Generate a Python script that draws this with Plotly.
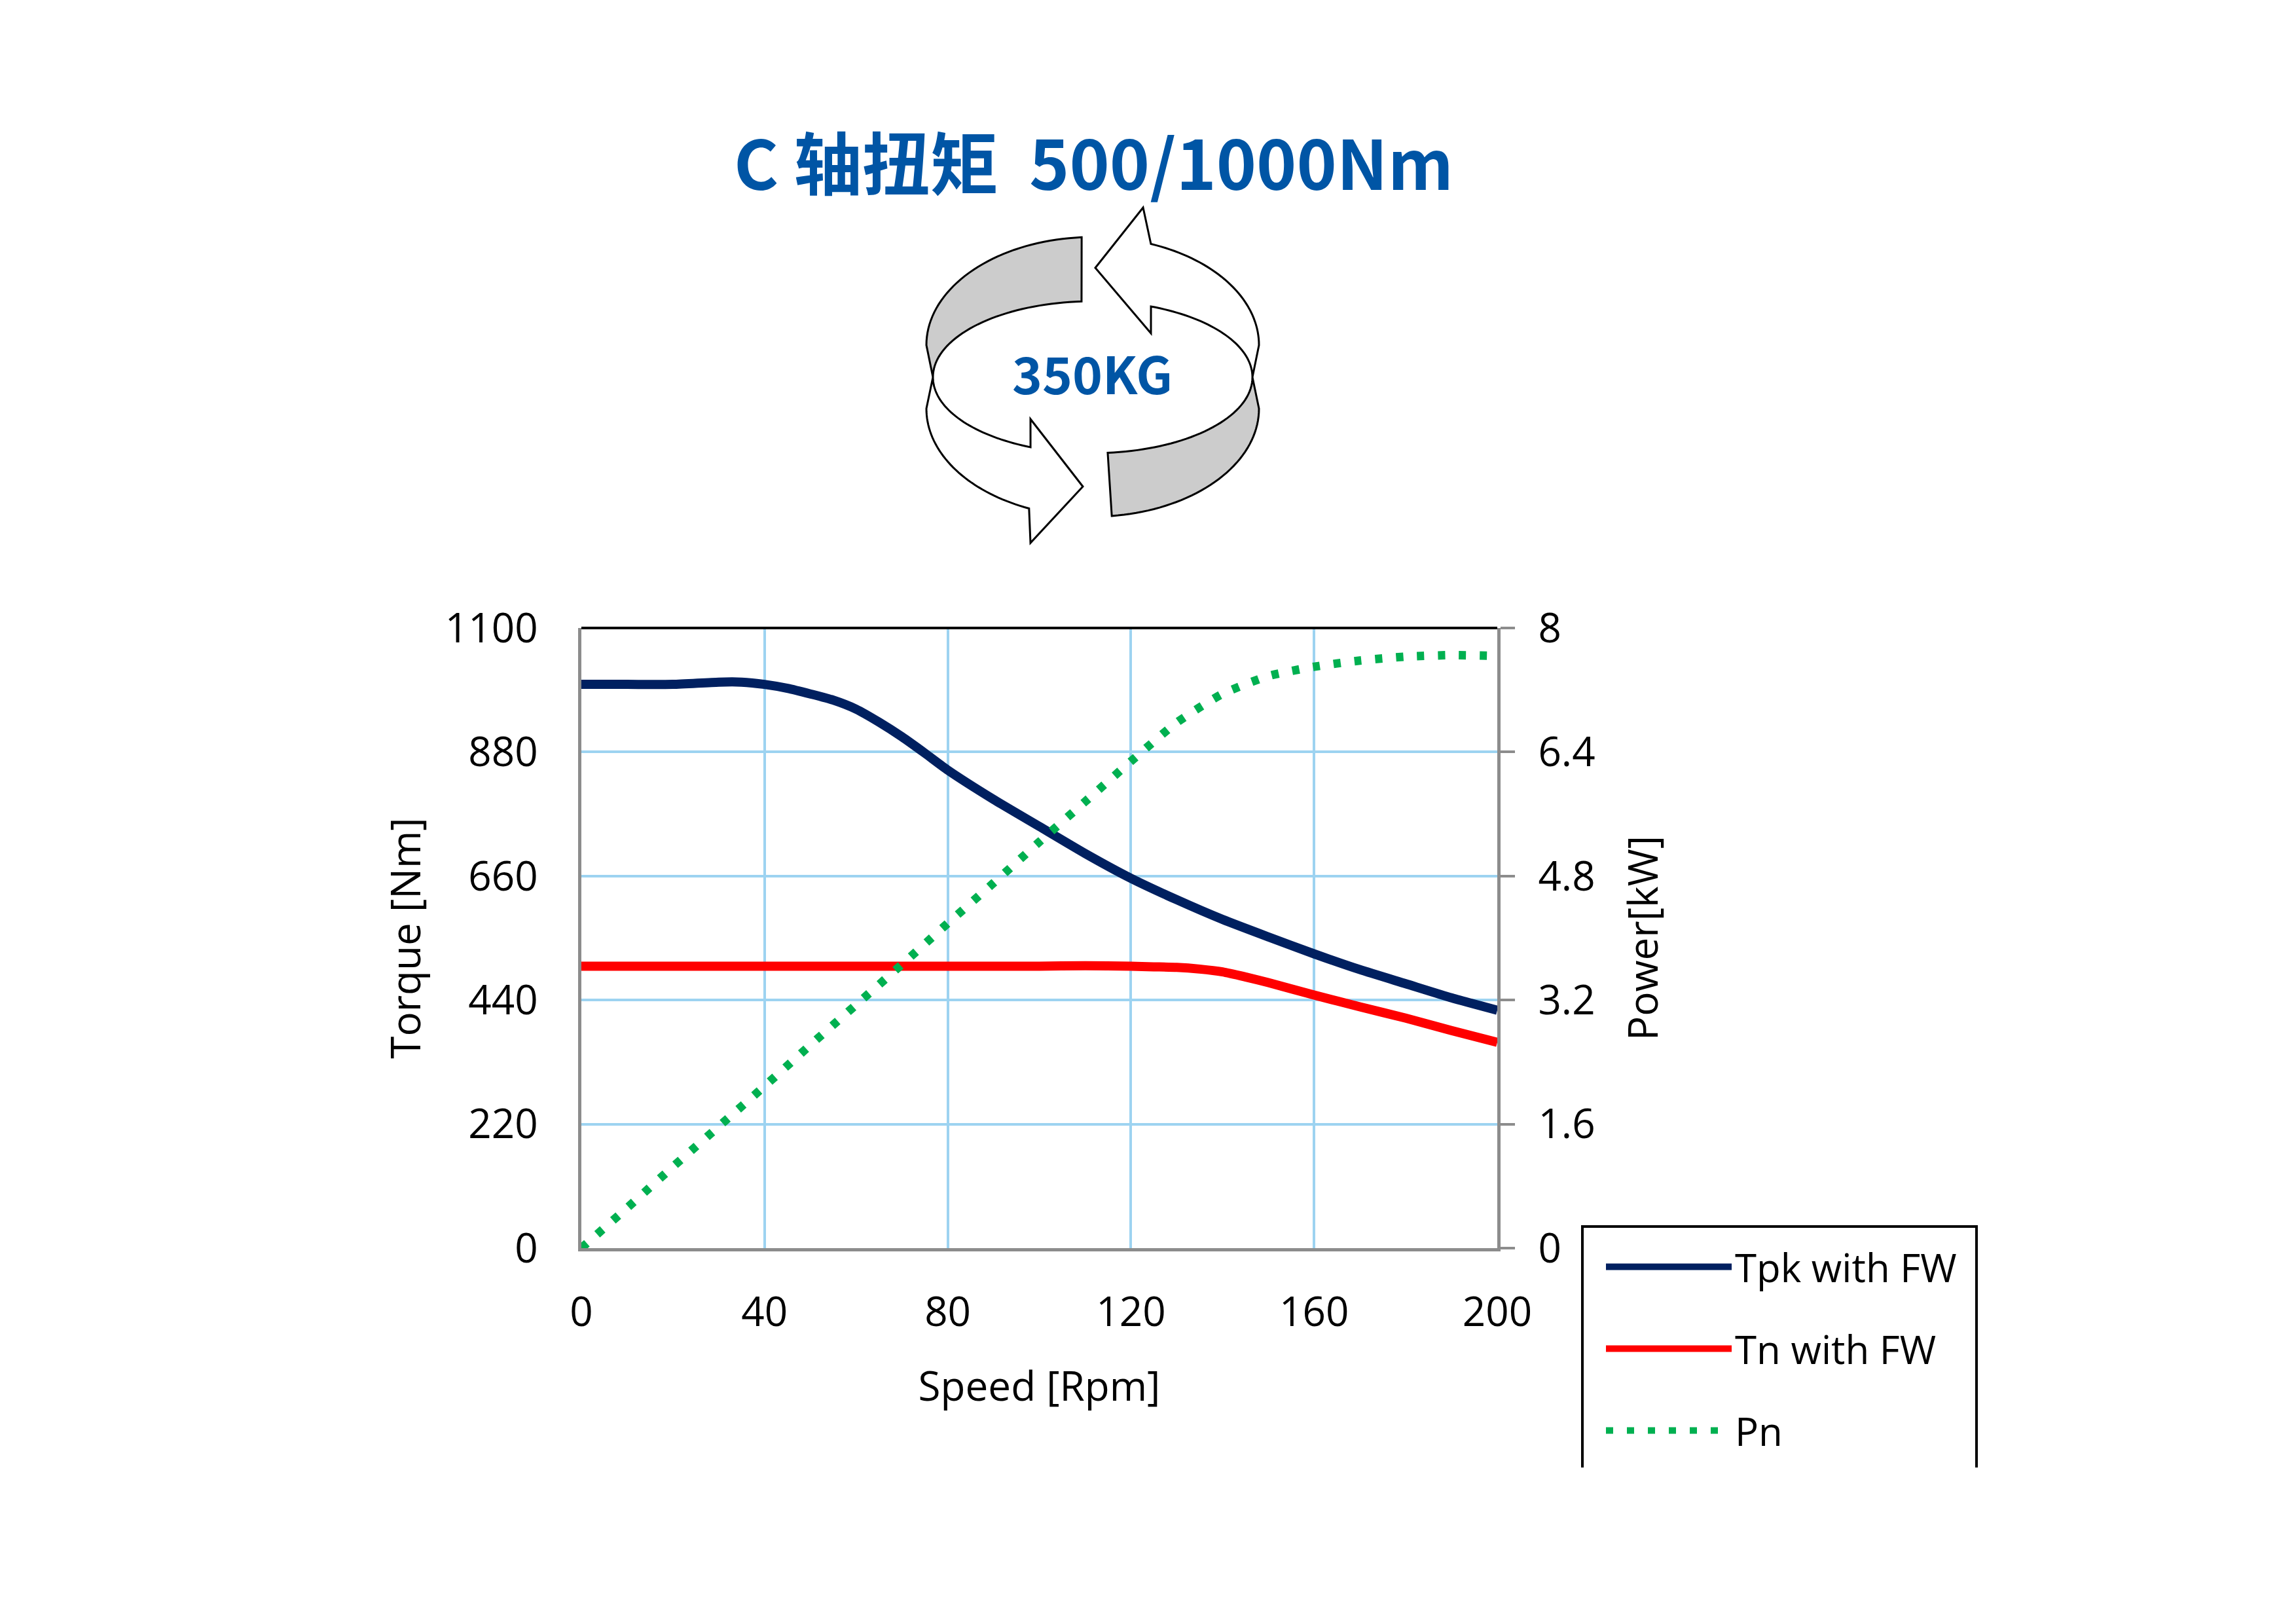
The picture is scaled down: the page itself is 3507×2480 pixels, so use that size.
import numpy as np
import plotly.graph_objects as go

W, H = 3507, 2480

# ---- data ----
speed_tpk = [0, 10, 20, 30, 35, 40, 45, 50, 55, 60, 65, 70, 75, 80, 90, 100,
             110, 120, 130, 140, 150, 160, 170, 180, 190, 200]
tpk = [1000, 1000, 1000, 1004, 1004, 1000, 993, 983, 972, 956, 933, 907, 878, 848, 796, 748,
       700, 656, 618, 583, 552, 522, 494, 469, 444, 422]

speed_tn = [0, 20, 40, 60, 80, 100, 110, 120, 125, 130, 135, 140, 145, 150, 160, 170, 180, 190, 200]
tn = [500, 500, 500, 500, 500, 500, 501, 500, 499, 498, 495, 490, 481, 471, 449, 428, 408, 386, 365]

speed_pn = [0, 10, 20, 30, 40, 50, 60, 70, 80, 90, 100, 110, 120, 130, 140, 150, 160, 170, 180, 190, 200]
pn = [0, 0.52, 1.05, 1.57, 2.09, 2.62, 3.14, 3.66, 4.19, 4.71, 5.24, 5.76, 6.28, 6.78, 7.15,
      7.38, 7.50, 7.58, 7.63, 7.65, 7.64]

speed_ticks = [0, 40, 80, 120, 160, 200]
torque_ticks = [0, 220, 440, 660, 880, 1100]
power_ticks = [0, 1.6, 3.2, 4.8, 6.4, 8]
power_labels = ["0", "1.6", "3.2", "4.8", "6.4", "8"]

FONT = "Open Sans"
BLUE = "#0055A5"
GRID = "#9DD3F1"
AXIS = "#8C8C8C"

# plot area in page pixels; the page body adds an 8px margin, so the figure is
# made 16px smaller to avoid scrollbars
PL, PR, PT, PB = 888, 2287, 959, 1906
OFF = 8
FW, FH = W - 2 * OFF, H - 2 * OFF


def px(x):
    return (x - PL) / (PR - PL)


def py(y):
    return (PB - y) / (PB - PT)


fig = go.Figure()
fig.add_trace(go.Scatter(x=speed_tpk, y=tpk, name="Tpk with FW", mode="lines", legendgroup="a",
                         line=dict(color="#002060", width=14, shape="spline", smoothing=0.6)))
fig.add_trace(go.Scatter(x=speed_tn, y=tn, name="Tn with FW", mode="lines", legendgroup="b",
                         line=dict(color="#FF0000", width=14, shape="spline", smoothing=0.6)))
fig.add_trace(go.Scatter(x=speed_pn, y=pn, name="Pn", mode="lines", yaxis="y2", legendgroup="c",
                         line=dict(color="#00B050", width=13, dash="11px,21px",
                                   shape="spline", smoothing=0.6)))


# ---- rotating arrows icon (decoration) ----
def arc(cx, cy, rx, ry, t0, t1, n=40):
    t = np.radians(np.linspace(t0, t1, n))
    return list(zip(cx + rx * np.cos(t), cy + ry * np.sin(t)))


def path(pts):
    return "M" + " L".join(f"{px(x):.5f},{py(y):.5f}" for x, y in pts) + " Z"


CX = 1669
left_gray = arc(CX, 527, 254, 165, 266.2, 180) + arc(CX, 576, 244, 116, 180, 266.0)
left_white = ([(1425, 576)] + arc(CX, 624, 254, 165, 180, 112.5)
              + [(1574, 829), (1654, 743), (1574, 640)] + arc(CX, 576, 244, 116, 112.9, 180))
right_gray = arc(CX, 624, 254, 165, 83.4, 0) + arc(CX, 576, 244, 116, 0, 84.6)
right_white = ([(1913, 576)] + arc(CX, 527, 254, 165, 360, 290.5)
               + [(1746, 317), (1673, 409), (1758, 509)] + arc(CX, 576, 244, 116, 291.4, 360))

shapes = []
for pts, fill in [(left_gray, "#CCCCCC"), (left_white, "white"),
                  (right_gray, "#CCCCCC"), (right_white, "white")]:
    shapes.append(dict(type="path", xref="paper", yref="paper", path=path(pts),
                       fillcolor=fill, line=dict(color="black", width=3)))

# black top border of plot area
shapes.append(dict(type="line", xref="paper", yref="paper", x0=0, x1=1, y0=1, y1=1,
                   line=dict(color="black", width=4)))

# legend frame (open at bottom as in the reference)
lx0, lx1, ly0, ly1 = px(2417), px(3019), py(1873), py(2241)
shapes.append(dict(type="path", xref="paper", yref="paper",
                   path=f"M{lx0},{ly1} L{lx0},{ly0} L{lx1},{ly0} L{lx1},{ly1}",
                   line=dict(color="black", width=4)))

fig.update_layout(
    width=FW, height=FH,
    paper_bgcolor="white", plot_bgcolor="white",
    margin=dict(l=PL - OFF, r=FW - (PR - OFF), t=PT - OFF, b=FH - (PB - OFF)),
    font=dict(family=FONT, size=62, color="black"),
    shapes=shapes,
    showlegend=True,
    legend=dict(x=px(2448), y=py(1889), xanchor="left", yanchor="top",
                bgcolor="rgba(0,0,0,0)", borderwidth=0, font=dict(size=60),
                itemwidth=192, tracegroupgap=44, traceorder="grouped"),
    annotations=[
        dict(text="<b>C 轴扭矩\u00a0\u00a0500/1000Nm</b>", xref="paper", yref="paper",
             x=px(1670), y=py(244), xanchor="center", yanchor="middle", showarrow=False,
             font=dict(family="Noto Sans CJK SC", size=104, color=BLUE)),
        dict(text="<b>350KG</b>", xref="paper", yref="paper",
             x=px(1668), y=py(568), xanchor="center", yanchor="middle", showarrow=False,
             font=dict(family="Noto Sans CJK SC", size=78, color=BLUE)),
    ],
    xaxis=dict(range=[0, 200], tickvals=speed_ticks, showgrid=True, gridcolor=GRID, gridwidth=4,
               showline=True, linecolor=AXIS, linewidth=5, zeroline=False, ticks="",
               ticklabelstandoff=40,
               title=dict(text="Speed [Rpm]", standoff=55, font=dict(size=62))),
    yaxis=dict(range=[0, 1100], tickvals=torque_ticks, showgrid=True, gridcolor=GRID, gridwidth=4,
               showline=True, linecolor=AXIS, linewidth=5, zeroline=False, ticks="",
               ticklabelstandoff=49,
               title=dict(text="Torque [Nm]", standoff=19, font=dict(size=62))),
    yaxis2=dict(range=[0, 8], tickvals=power_ticks, ticktext=power_labels, overlaying="y",
                side="right", showgrid=False, showline=True, linecolor=AXIS, linewidth=5,
                zeroline=False, ticks="outside", ticklen=22, tickwidth=4, tickcolor=AXIS,
                ticklabelstandoff=23,
                title=dict(text="Power[kW]", standoff=55, font=dict(size=62))),
)

fig.write_html("out.html")
